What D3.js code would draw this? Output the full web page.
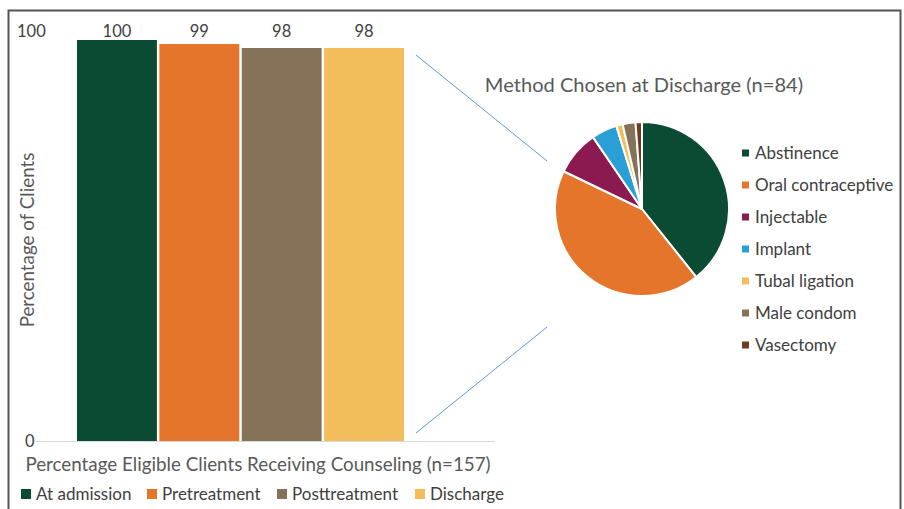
<!DOCTYPE html>
<html>
<head>
<meta charset="utf-8">
<script src="https://cdn.jsdelivr.net/npm/d3@7"></script>
<style>
    body { margin: 0; background: #fff; }
    svg text { font-family: Lato, "Open Sans", sans-serif; fill: #595959; }
</style>
</head>
<body>
<div id="chart"></div>
<script>

// bar chart data
var stages = ["At admission", "Pretreatment", "Posttreatment", "Discharge"];
var stage_values = [100, 99, 98, 98];
var stage_colors = ["#0b4a33", "#e6752c", "#857259", "#f3bd59"];
var y_ticks = [0, 100];

// pie chart data (counts out of 84)
var methods = ["Abstinence", "Oral contraceptive", "Injectable", "Implant", "Tubal ligation", "Male condom", "Vasectomy"];
var method_counts = [33, 36, 7, 4, 1, 2, 1];
var method_colors = ["#0b4a33", "#e6752c", "#8a1a4f", "#2a9fd6", "#f3bd59", "#857259", "#6e3a22"];

var width = 904
    , height = 509
    ;

var svg = d3.select("#chart")
    .append("svg")
    .attr("width", width)
    .attr("height", height);

// frame
svg.append("path")
    .attr("d", "M 8.5," + height + " V 10.5 H 900.5 V " + height)
    .attr("fill", "none")
    .attr("stroke", "#555")
    .attr("stroke-width", 2);

// ---- bar chart ----
var x = d3.scaleBand()
    .domain(stages)
    .range([77, 404])
    .paddingInner(0.03)
    .paddingOuter(0);

var y = d3.scaleLinear()
    .domain([0, 100])
    .range([441, 40]);

svg.append("line")
    .attr("x1", 36)
    .attr("x2", 495)
    .attr("y1", y(0) + 0.5)
    .attr("y2", y(0) + 0.5)
    .attr("stroke", "#d9d9d9")
    .attr("stroke-width", 1);

svg.selectAll(".y-tick")
    .data(y_ticks)
    .enter()
    .append("text")
    .attr("class", "y-tick")
    .attr("x", function(d) { return d === 0 ? 25 : 17; })
    .attr("y", function(d) { return d === 0 ? y(d) + 6 : 37; })
    .style("font-size", "16.5px")
    .style("fill", "#404040")
    .text(function(d) { return d; });

svg.selectAll(".bar")
    .data(stage_values)
    .enter()
    .append("rect")
    .attr("class", "bar")
    .attr("x", function(d, i) { return x(stages[i]); })
    .attr("width", x.bandwidth())
    .attr("y", function(d) { return y(d); })
    .attr("height", function(d) { return y(0) - y(d); })
    .attr("fill", function(d, i) { return stage_colors[i]; });

svg.selectAll(".bar-label")
    .data(stage_values)
    .enter()
    .append("text")
    .attr("class", "bar-label")
    .attr("x", function(d, i) { return x(stages[i]) + x.bandwidth() / 2; })
    .attr("y", 37)
    .attr("text-anchor", "middle")
    .style("font-size", "16.5px")
    .style("fill", "#404040")
    .text(function(d) { return d; });

svg.append("text")
    .attr("transform", "translate(34,240) rotate(-90)")
    .attr("text-anchor", "middle")
    .style("font-size", "18.8px")
    .text("Percentage of Clients");

svg.append("text")
    .attr("x", 258)
    .attr("y", 471)
    .attr("text-anchor", "middle")
    .style("font-size", "18.8px")
    .text("Percentage Eligible Clients Receiving Counseling (n=157)");

// bar legend
var legend_x = [21, 147, 277, 415];
var bar_legend = svg.selectAll(".bar-legend")
    .data(stages)
    .enter()
    .append("g")
    .attr("class", "bar-legend")
    .attr("transform", function(d, i) { return "translate(" + legend_x[i] + ",494)"; });

bar_legend.append("rect")
    .attr("x", 0)
    .attr("y", -5)
    .attr("width", 10)
    .attr("height", 10)
    .attr("fill", function(d, i) { return stage_colors[i]; });

bar_legend.append("text")
    .attr("x", 15)
    .attr("y", 6)
    .style("font-size", "17px")
    .style("fill", "#404040")
    .text(function(d) { return d; });

// connector lines
svg.append("line")
    .attr("x1", 416).attr("y1", 55)
    .attr("x2", 547).attr("y2", 161)
    .attr("stroke", "#5b9bd5")
    .attr("stroke-width", 1);

svg.append("line")
    .attr("x1", 416).attr("y1", 433)
    .attr("x2", 547).attr("y2", 327)
    .attr("stroke", "#5b9bd5")
    .attr("stroke-width", 1);

// ---- pie chart ----
svg.append("text")
    .attr("x", 644)
    .attr("y", 92)
    .attr("text-anchor", "middle")
    .style("font-size", "20.1px")
    .text("Method Chosen at Discharge (n=84)");

var pie = d3.pie()
    .sort(null)
    .value(function(d) { return d; });

var arc = d3.arc()
    .innerRadius(0)
    .outerRadius(87);

var pie_g = svg.append("g")
    .attr("transform", "translate(642,209)");

pie_g.selectAll("path")
    .data(pie(method_counts))
    .enter()
    .append("path")
    .attr("d", arc)
    .attr("fill", function(d, i) { return method_colors[i]; })
    .attr("stroke", "#fff")
    .attr("stroke-width", 2)
    .attr("stroke-linejoin", "round");

var pie_legend = svg.selectAll(".pie-legend")
    .data(methods)
    .enter()
    .append("g")
    .attr("class", "pie-legend")
    .attr("transform", function(d, i) { return "translate(742," + (153 + i * 32) + ")"; });

pie_legend.append("rect")
    .attr("x", 0)
    .attr("y", -3.5)
    .attr("width", 7)
    .attr("height", 7)
    .attr("fill", function(d, i) { return method_colors[i]; });

pie_legend.append("text")
    .attr("x", 13)
    .attr("y", 6)
    .style("font-size", "17px")
    .style("fill", "#404040")
    .text(function(d) { return d; });

</script>
</body>
</html>
